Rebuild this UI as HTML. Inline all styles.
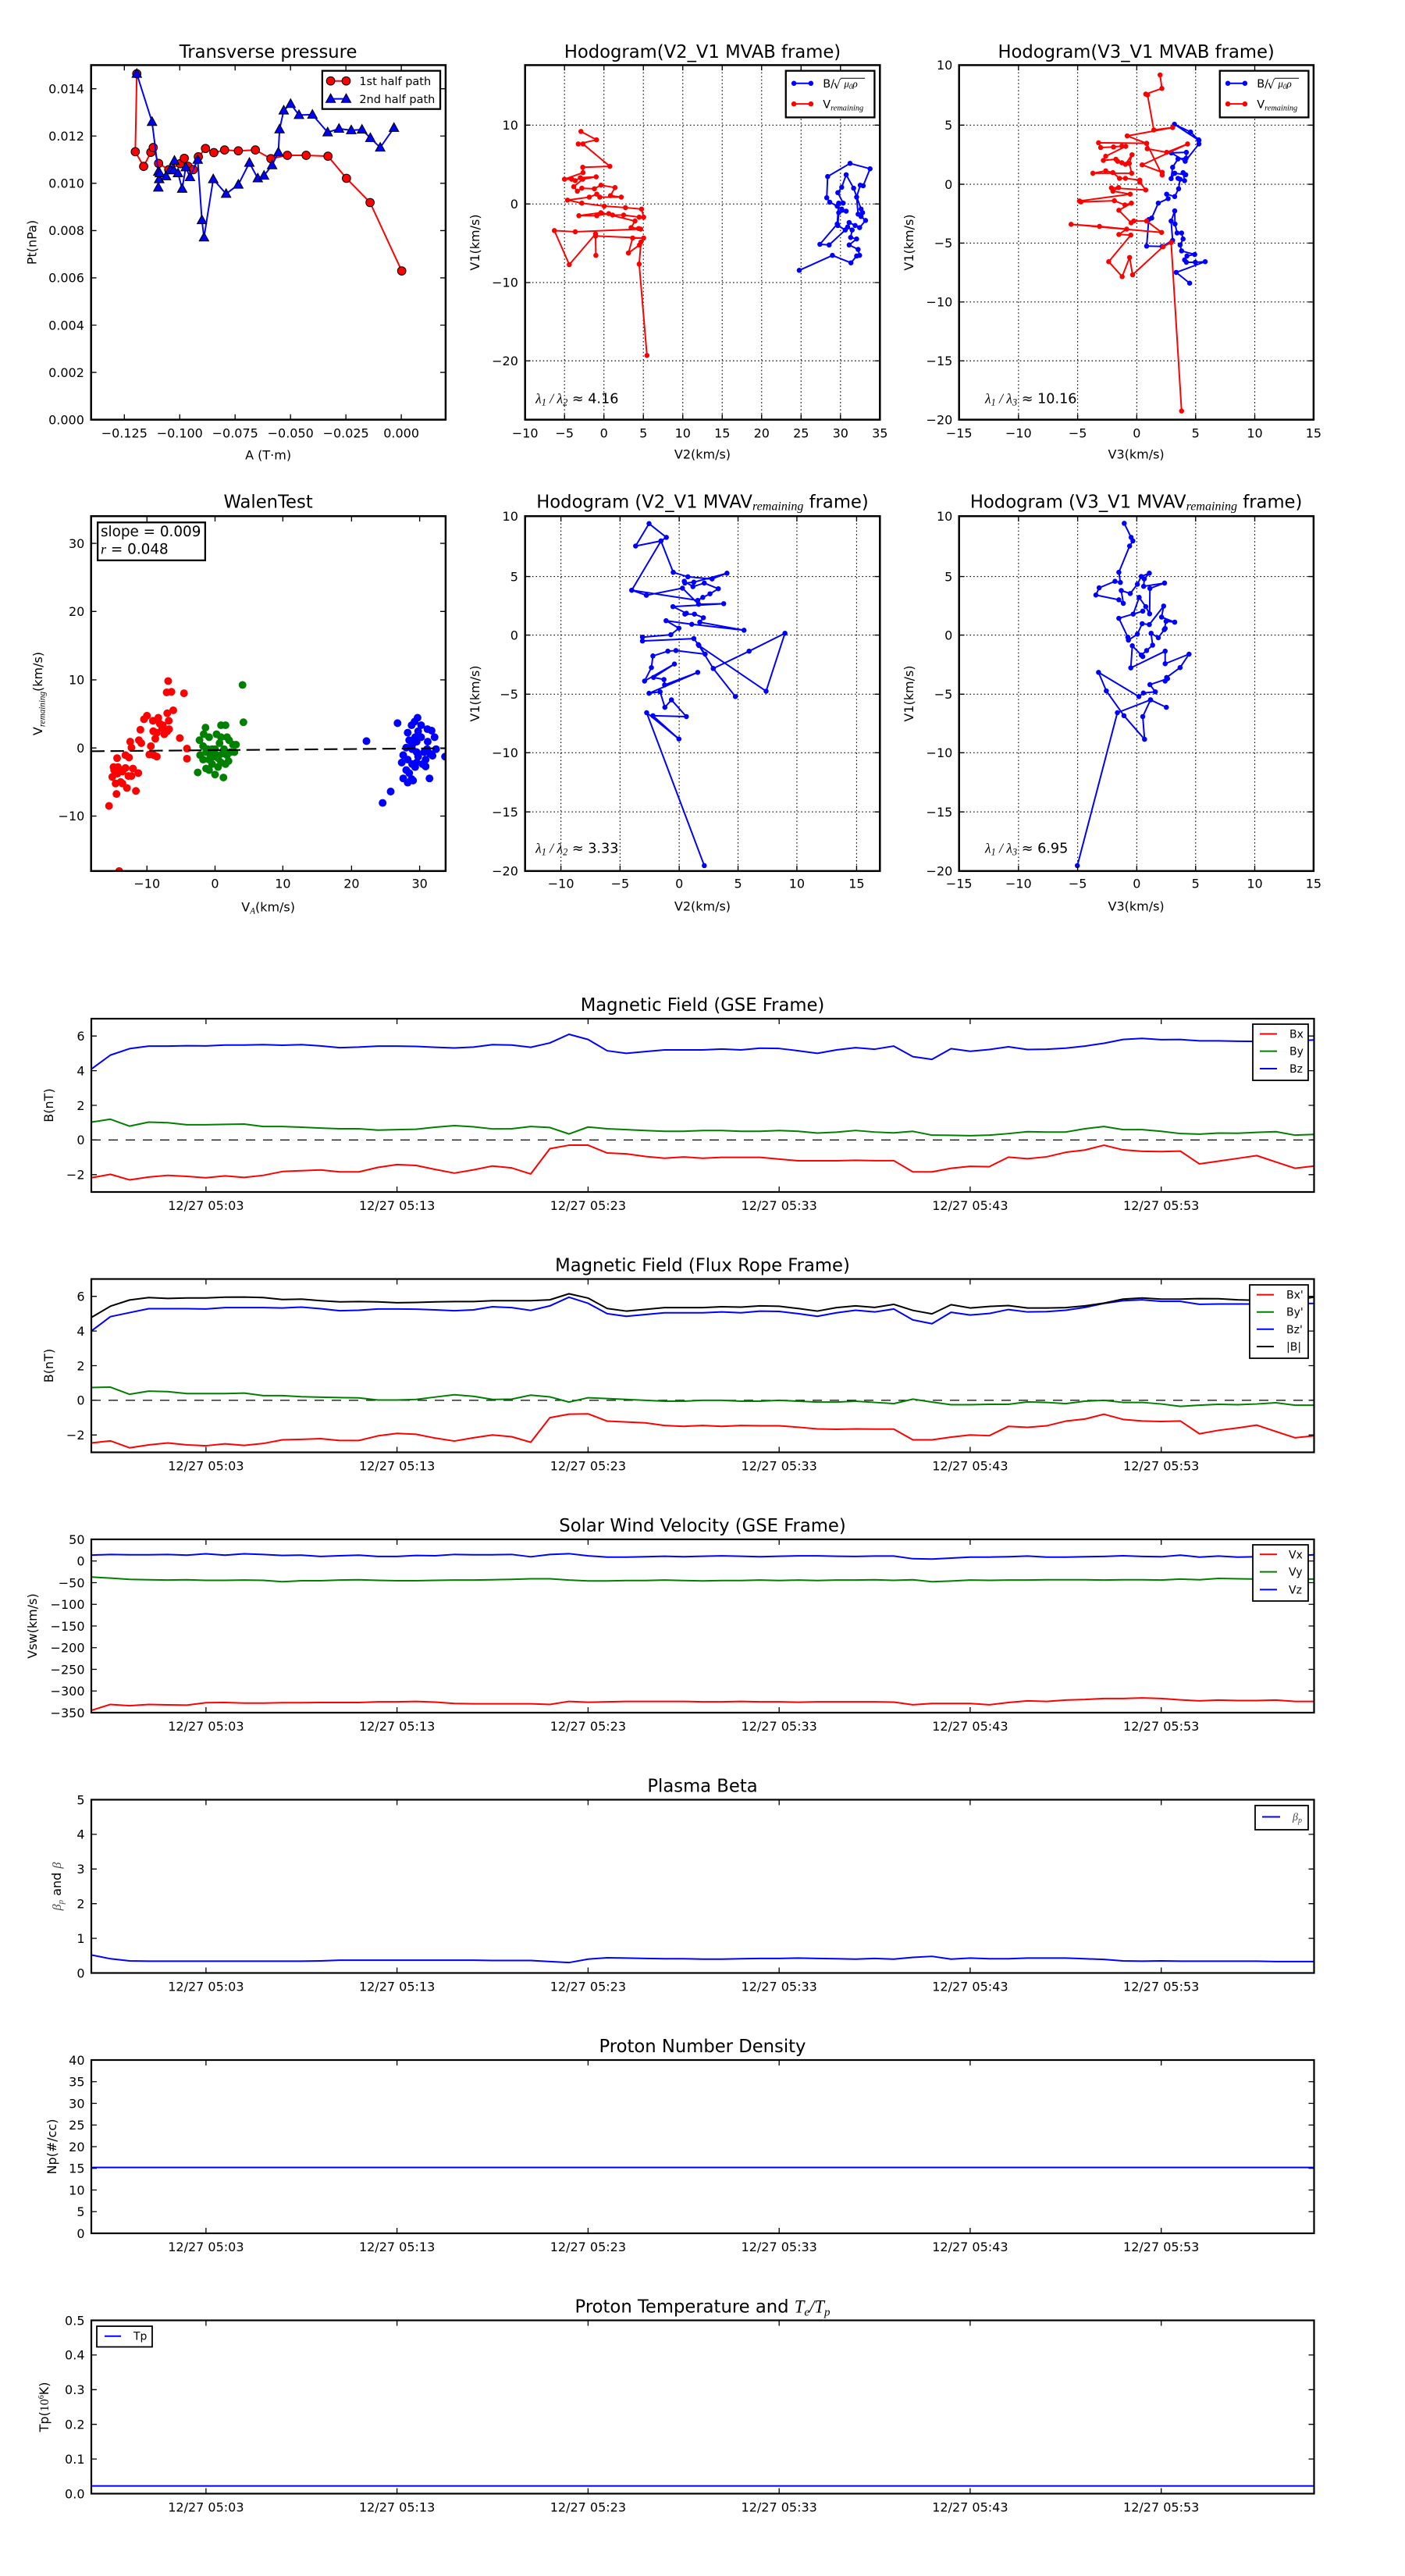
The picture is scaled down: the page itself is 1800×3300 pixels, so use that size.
<!DOCTYPE html>
<html><head><meta charset="utf-8">
<style>
html,body{margin:0;padding:0;background:#fff;}
svg{display:block;font-family:"DejaVu Sans","Liberation Sans",sans-serif;}
.ns{vector-effect:non-scaling-stroke;fill:none;stroke-width:2;stroke-linejoin:round;}
.mi{font-family:"Liberation Serif","DejaVu Serif",serif;font-style:italic;}
</style></head><body>
<svg width="1800" height="3300" viewBox="0 0 1800 3300" xmlns="http://www.w3.org/2000/svg">
<rect width="1800" height="3300" fill="#fff"/>
<defs>
<marker id="mRC" markerUnits="userSpaceOnUse" markerWidth="40" markerHeight="40" viewBox="-20 -20 40 40" refX="0" refY="0"><circle r="14" fill="#f00" stroke="#000" stroke-width="2.6"/></marker>
<marker id="mBT" markerUnits="userSpaceOnUse" markerWidth="40" markerHeight="40" viewBox="-20 -20 40 40" refX="0" refY="0"><path d="M0,-17L16,12L-16,12Z" fill="#00f" stroke="#000" stroke-width="2.6"/></marker>
<marker id="mB" markerUnits="userSpaceOnUse" markerWidth="20" markerHeight="20" viewBox="-10 -10 20 20" refX="0" refY="0"><circle r="8.5" fill="#00f"/></marker>
<marker id="mR" markerUnits="userSpaceOnUse" markerWidth="20" markerHeight="20" viewBox="-10 -10 20 20" refX="0" refY="0"><circle r="8.5" fill="#f00"/></marker>
<marker id="wR" markerUnits="userSpaceOnUse" markerWidth="28" markerHeight="28" viewBox="-14 -14 28 28" refX="0" refY="0"><circle r="13" fill="#f00"/></marker>
<marker id="wG" markerUnits="userSpaceOnUse" markerWidth="28" markerHeight="28" viewBox="-14 -14 28 28" refX="0" refY="0"><circle r="13" fill="#008000"/></marker>
<marker id="wB" markerUnits="userSpaceOnUse" markerWidth="28" markerHeight="28" viewBox="-14 -14 28 28" refX="0" refY="0"><circle r="13" fill="#00f"/></marker>
</defs>

<!-- ============ PANEL 1: Transverse pressure ============ -->
<g transform="translate(0,0) scale(0.38265)" font-size="41.8">
<clipPath id="c1"><rect x="305" y="218" width="1187" height="1187"/></clipPath>
<g clip-path="url(#c1)">
<polyline points="458,247 453,508 481,557 505,510 513,494 531,547 565,568 603,548 617,530 630,557 647,568 664,525 688,497 716,511 752,502 798,505 855,502 907,531 962,520 1025,520 1098,523 1160,597 1239,678 1345,907" fill="none" stroke="#f00" stroke-width="5.2" marker-start="url(#mRC)" marker-mid="url(#mRC)" marker-end="url(#mRC)"/>
<polyline points="458,247 509,408 530,575 530,628 533,600 535,580 556,590 570,568 584,538 582,570 596,580 610,632 622,560 636,593 662,535 676,737 683,795 714,600 757,649 798,618 835,545 863,597 884,588 911,553 932,510 936,433 950,370 973,348 1001,385 1046,384 1097,443 1135,431 1176,436 1212,434 1240,462 1273,494 1319,428" fill="none" stroke="#00f" stroke-width="5.2" marker-start="url(#mBT)" marker-mid="url(#mBT)" marker-end="url(#mBT)"/>
</g>
<path d="M416.3,1405v-18M601.8,1405v-18M787.2,1405v-18M972.7,1405v-18M1158.1,1405v-18M1343.6,1405v-18M416.3,218v18M601.8,218v18M787.2,218v18M972.7,218v18M1158.1,218v18M1343.6,218v18M305,1246.7h18M305,1088.5h18M305,930.2h18M305,772h18M305,613.7h18M305,455.4h18M305,297.1h18M1492,1246.7h-18M1492,1088.5h-18M1492,930.2h-18M1492,772h-18M1492,613.7h-18M1492,455.4h-18M1492,297.1h-18" stroke="#000" stroke-width="3.5"/>
<rect x="305" y="218" width="1187" height="1187" fill="none" stroke="#000" stroke-width="6.5"/>
<g text-anchor="end">
<text x="282" y="1420">0.000</text><text x="282" y="1261.7">0.002</text><text x="282" y="1103.5">0.004</text><text x="282" y="945.2">0.006</text><text x="282" y="787">0.008</text><text x="282" y="628.7">0.010</text><text x="282" y="470.4">0.012</text><text x="282" y="312.1">0.014</text>
</g>
<g text-anchor="middle">
<text x="416.3" y="1465">−0.125</text><text x="601.8" y="1465">−0.100</text><text x="787.2" y="1465">−0.075</text><text x="972.7" y="1465">−0.050</text><text x="1158.1" y="1465">−0.025</text><text x="1343.6" y="1465">0.000</text>
<text x="898" y="193" font-size="59.3">Transverse pressure</text>
<text x="898" y="1538">A (T·m)</text>
<text transform="translate(121,811.5) rotate(-90)">Pt(nPa)</text>
</g>
<rect x="1079" y="237" width="395" height="128" fill="#fff" stroke="#000" stroke-width="6"/>
<polyline points="1107,271 1159,271" stroke="#f00" stroke-width="5.2" marker-start="url(#mRC)" marker-end="url(#mRC)"/>
<polyline points="1107,331 1159,331" stroke="#00f" stroke-width="5.2" marker-start="url(#mBT)" marker-end="url(#mBT)"/>
<text x="1203" y="285" font-size="37.9">1st half path</text>
<text x="1203" y="345" font-size="37.9">2nd half path</text>
</g>

<!-- ============ PANEL 2: Hodogram V2_V1 MVAB ============ -->
<g transform="translate(600,0) scale(0.38265)" font-size="41.8">
<clipPath id="c2"><rect x="190" y="218" width="1188" height="1187"/></clipPath>
<path d="M322,218V1405M454,218V1405M586,218V1405M718,218V1405M850,218V1405M982,218V1405M1114,218V1405M1246,218V1405M190,419H1378M190,683H1378M190,946H1378M190,1208H1378" stroke="#000" stroke-width="3" stroke-dasharray="4,8"/>
<g clip-path="url(#c2)">
<polyline points="1108,905 1219,855 1281,880 1300,857 1310,855 1305,835 1275,820 1300,800 1280,795 1285,770 1270,760 1275,745 1295,755 1310,762 1330,738 1315,725 1305,717 1300,660 1312,620 1322,622 1345,565 1278,547 1203,591 1200,662 1210,677 1235,690 1250,700 1265,707 1240,712 1237,755 1262,770 1208,820 1177,818 1235,750 1240,680 1255,680 1237,645 1250,627 1265,585 1290,630 1315,700 1320,712" fill="none" stroke="#00f" stroke-width="5.2" stroke-linejoin="round" marker-start="url(#mB)" marker-mid="url(#mB)" marker-end="url(#mB)"/>
<polyline points="377,440 429,468 368,482 384,482 474,557 383,560 384,578 322,600 346,600 358,605 375,595 428,592 383,600 353,625 365,640 380,630 422,632 444,620 491,628 476,655 512,660 440,660 430,650 405,660 332,670 380,680 455,690 526,695 580,700 587,727 572,727 520,720 483,720 470,715 430,722 370,722 444,712 558,740 545,762 570,765 577,767 358,776 288,772 338,886 426,783 427,855 426,790 587,797 550,797 536,847 573,820 578,810 572,884 598,1190" fill="none" stroke="#f00" stroke-width="5.2" stroke-linejoin="round" marker-start="url(#mR)" marker-mid="url(#mR)" marker-end="url(#mR)"/>
</g>
<path d="M322,1405v-18M454,1405v-18M586,1405v-18M718,1405v-18M850,1405v-18M982,1405v-18M1114,1405v-18M1246,1405v-18M322,218v18M454,218v18M586,218v18M718,218v18M850,218v18M982,218v18M1114,218v18M1246,218v18M190,419h18M190,683h18M190,946h18M190,1208h18M1378,419h-18M1378,683h-18M1378,946h-18M1378,1208h-18" stroke="#000" stroke-width="3.5"/>
<rect x="190" y="218" width="1188" height="1187" fill="none" stroke="#000" stroke-width="6.5"/>
<g text-anchor="end"><text x="167" y="434">10</text><text x="167" y="698">0</text><text x="167" y="961">−10</text><text x="167" y="1223">−20</text></g>
<g text-anchor="middle">
<text x="190" y="1465">−10</text><text x="322" y="1465">−5</text><text x="454" y="1465">0</text><text x="586" y="1465">5</text><text x="718" y="1465">10</text><text x="850" y="1465">15</text><text x="982" y="1465">20</text><text x="1114" y="1465">25</text><text x="1246" y="1465">30</text><text x="1378" y="1465">35</text>
<text x="784" y="193" font-size="59.3">Hodogram(V2_V1 MVAB frame)</text>
<text x="784" y="1535">V2(km/s)</text>
<text transform="translate(37,811.5) rotate(-90)">V1(km/s)</text>
</g>
<text x="225" y="1350" font-size="46"><tspan class="mi">λ</tspan><tspan class="mi" font-size="32" dy="8">1</tspan><tspan class="mi" dy="-8"> / λ</tspan><tspan class="mi" font-size="32" dy="8">2</tspan><tspan dy="-8"> ≈ 4.16</tspan></text>
<rect x="1063" y="237" width="297" height="156" fill="#fff" stroke="#000" stroke-width="6"/>
<polyline points="1090,279 1147,279" stroke="#00f" stroke-width="5.2" marker-start="url(#mB)" marker-end="url(#mB)"/>
<polyline points="1090,348 1147,348" stroke="#f00" stroke-width="5.2" marker-start="url(#mR)" marker-end="url(#mR)"/>
<text x="1187" y="293" font-size="37.9">B/</text><text x="1222" y="297" font-size="40" font-family="DejaVu Serif,serif">√</text>
<text x="1258" y="292" font-size="34" class="mi">μ<tspan font-size="24" dy="6">0</tspan><tspan dy="-6">ρ</tspan></text>
<line x1="1246" y1="262" x2="1328" y2="262" stroke="#000" stroke-width="2.5"/>
<text x="1187" y="362" font-size="37.9">V<tspan class="mi" font-size="27" dy="8">remaining</tspan></text>
</g>

<!-- ============ PANEL 3: Hodogram V3_V1 MVAB ============ -->
<g transform="translate(1200,0) scale(0.38265)" font-size="41.8">
<clipPath id="c3"><rect x="75" y="218" width="1187" height="1187"/></clipPath>
<path d="M274,218V1405M472,218V1405M670,218V1405M867,218V1405M1065,218V1405M75,419H1262M75,617H1262M75,814H1262M75,1011H1262M75,1208H1262" stroke="#000" stroke-width="3" stroke-dasharray="4,8"/>
<g clip-path="url(#c3)">
<polyline points="847,948 802,912 899,876 866,878 836,878 830,870 838,857 864,852 820,840 815,820 825,800 820,780 805,780 798,750 797,706 785,740 790,805 755,825 703,824 710,735 720,730 742,680 775,665 770,650 797,658 810,632 815,600 808,597 830,605 825,578 834,585 797,580 785,598 790,560 808,532 835,530 836,510 786,512 832,540 878,482 877,468 850,442 796,416 878,470" fill="none" stroke="#00f" stroke-width="5.2" stroke-linejoin="round" marker-start="url(#mB)" marker-mid="url(#mB)" marker-end="url(#mB)"/>
<polyline points="748,251 754,296 700,315 706,318 727,435 790,427 638,455 703,480 705,498 770,510 840,482 688,552 755,577 755,586 703,480 542,478 549,494 592,492 620,489 633,490 566,523 558,537 600,533 606,540 620,545 632,550 654,518 645,547 653,580 523,580 566,572 590,578 612,597 632,597 680,603 680,610 700,636 585,629 609,628 590,640 648,650 478,673 483,676 595,672 630,686 652,680 610,704 651,746 660,740 703,740 753,778 450,751 545,758 636,767 610,785 650,787 576,876 621,926 646,862 656,920 758,826 785,812 820,1376" fill="none" stroke="#f00" stroke-width="5.2" stroke-linejoin="round" marker-start="url(#mR)" marker-mid="url(#mR)" marker-end="url(#mR)"/>
</g>
<path d="M274,1405v-18M472,1405v-18M670,1405v-18M867,1405v-18M1065,1405v-18M274,218v18M472,218v18M670,218v18M867,218v18M1065,218v18M75,419h18M75,617h18M75,814h18M75,1011h18M75,1208h18M1262,419h-18M1262,617h-18M1262,814h-18M1262,1011h-18M1262,1208h-18" stroke="#000" stroke-width="3.5"/>
<rect x="75" y="218" width="1187" height="1187" fill="none" stroke="#000" stroke-width="6.5"/>
<g text-anchor="end"><text x="53" y="233">10</text><text x="53" y="434">5</text><text x="53" y="632">0</text><text x="53" y="829">−5</text><text x="53" y="1026">−10</text><text x="53" y="1223">−15</text><text x="53" y="1420">−20</text></g>
<g text-anchor="middle">
<text x="75" y="1465">−15</text><text x="274" y="1465">−10</text><text x="472" y="1465">−5</text><text x="670" y="1465">0</text><text x="867" y="1465">5</text><text x="1065" y="1465">10</text><text x="1262" y="1465">15</text>
<text x="668" y="193" font-size="59.3">Hodogram(V3_V1 MVAB frame)</text>
<text x="668" y="1535">V3(km/s)</text>
<text transform="translate(-79,811.5) rotate(-90)">V1(km/s)</text>
</g>
<text x="162" y="1350" font-size="46"><tspan class="mi">λ</tspan><tspan class="mi" font-size="32" dy="8">1</tspan><tspan class="mi" dy="-8"> / λ</tspan><tspan class="mi" font-size="32" dy="8">3</tspan><tspan dy="-8"> ≈ 10.16</tspan></text>
<rect x="948" y="237" width="297" height="156" fill="#fff" stroke="#000" stroke-width="6"/>
<polyline points="975,279 1032,279" stroke="#00f" stroke-width="5.2" marker-start="url(#mB)" marker-end="url(#mB)"/>
<polyline points="975,348 1032,348" stroke="#f00" stroke-width="5.2" marker-start="url(#mR)" marker-end="url(#mR)"/>
<text x="1072" y="293" font-size="37.9">B/</text><text x="1107" y="297" font-size="40" font-family="DejaVu Serif,serif">√</text>
<text x="1143" y="292" font-size="34" class="mi">μ<tspan font-size="24" dy="6">0</tspan><tspan dy="-6">ρ</tspan></text>
<line x1="1131" y1="262" x2="1213" y2="262" stroke="#000" stroke-width="2.5"/>
<text x="1072" y="362" font-size="37.9">V<tspan class="mi" font-size="27" dy="8">remaining</tspan></text>
</g>

<!-- ============ PANEL 4: WalenTest ============ -->
<g transform="translate(0,600) scale(0.38265)" font-size="41.8">
<clipPath id="c4"><rect x="305" y="160" width="1187" height="1188"/></clipPath>
<g clip-path="url(#c4)">
<polyline points="365,1130 399,1348 390,1090 380,1000 382,1010 392,970 393,1022 387,1055 404,1050 410,1015 420,1003 430,1030 425,1070 420,960 432,968 445,1005 440,1030 455,1080 463,1020 436,915 440,935 465,910 470,875 473,920 482,840 492,828 500,958 505,930 515,960 525,965 513,880 512,845 520,905 530,835 535,855 543,870 550,890 560,880 565,845 566,873 558,750 563,712 574,748 580,810 560,820 602,903 616,753 626,938 626,972 545,860 525,885 395,1000 410,1055 376,1033" fill="none" stroke="none" marker-start="url(#wR)" marker-mid="url(#wR)" marker-end="url(#wR)"/>
<polyline points="688,868 682,890 668,910 680,930 690,950 700,900 710,940 725,890 725,960 735,920 740,900 745,955 750,940 760,900 767,910 755,860 740,860 780,925 790,925 785,950 765,980 755,990 740,985 720,1025 700,1010 690,1005 662,1018 748,1035 730,970 700,975 710,990 680,975 670,960 720,940 730,1000 812,725 815,850 760,960 772,950 695,940 705,960 715,965" fill="none" stroke="none" marker-start="url(#wG)" marker-mid="url(#wG)" marker-end="url(#wG)"/>
<polyline points="1227,913 1331,853 1378,860 1398,835 1388,848 1365,885 1370,910 1380,925 1390,900 1400,880 1410,860 1431,873 1445,878 1455,900 1432,915 1395,950 1380,940 1360,935 1350,960 1420,950 1430,940 1440,955 1460,940 1448,962 1425,975 1415,990 1395,985 1380,990 1365,975 1345,985 1360,1010 1370,1020 1378,1040 1350,1038 1365,1052 1383,1045 1425,998 1438,1038 1490,965 1308,1082 1281,1120 1395,915 1410,900 1400,965 1390,1000" fill="none" stroke="none" marker-start="url(#wB)" marker-mid="url(#wB)" marker-end="url(#wB)"/>
<line x1="305" y1="947" x2="1492" y2="937" stroke="#000" stroke-width="5.5" stroke-dasharray="45,20"/>
</g>
<path d="M492,1348v-18M720,1348v-18M947,1348v-18M1177,1348v-18M1405,1348v-18M492,160v18M720,160v18M947,160v18M1177,160v18M1405,160v18M305,251h18M305,479h18M305,708h18M305,936h18M305,1164h18M1492,251h-18M1492,479h-18M1492,708h-18M1492,936h-18M1492,1164h-18" stroke="#000" stroke-width="3.5"/>
<rect x="305" y="160" width="1187" height="1188" fill="none" stroke="#000" stroke-width="6.5"/>
<g text-anchor="end"><text x="283" y="266">30</text><text x="283" y="494">20</text><text x="283" y="723">10</text><text x="283" y="951">0</text><text x="283" y="1179">−10</text></g>
<g text-anchor="middle">
<text x="492" y="1405">−10</text><text x="720" y="1405">0</text><text x="947" y="1405">10</text><text x="1177" y="1405">20</text><text x="1405" y="1405">30</text>
<text x="898" y="132" font-size="59.3">WalenTest</text>
<text x="898" y="1483">V<tspan class="mi" font-size="29" dy="8">A</tspan><tspan dy="-8">(km/s)</tspan></text>
<text transform="translate(141,754) rotate(-90)">V<tspan class="mi" font-size="29" dy="9">remaining</tspan><tspan dy="-9">(km/s)</tspan></text>
</g>
<rect x="327" y="181" width="360" height="127" fill="#fff" stroke="#000" stroke-width="6"/>
<text x="337" y="228" font-size="48">slope = 0.009</text>
<text x="337" y="286" font-size="48"><tspan class="mi">r</tspan> = 0.048</text>
</g>

<!-- ============ PANEL 5: Hodogram V2_V1 MVAV ============ -->
<g transform="translate(600,600) scale(0.38265)" font-size="41.8">
<clipPath id="c5"><rect x="190" y="160" width="1188" height="1188"/></clipPath>
<path d="M310,160V1348M508,160V1348M706,160V1348M903,160V1348M1100,160V1348M1300,160V1348M190,362H1378M190,558H1378M190,756H1378M190,952H1378M190,1150H1378" stroke="#000" stroke-width="3" stroke-dasharray="4,8"/>
<g clip-path="url(#c5)">
<polyline points="790,1330 597,818 705,906 618,828 730,831 680,775 658,800 642,748 605,753 768,683 657,725 655,707 620,700 690,655 590,712 613,667 618,628 668,612 695,610 793,622 770,590 820,670 894,764 820,670 940,612 1060,552 997,746 772,593 755,570 583,578 583,565 678,557 705,535 662,510 748,522 923,542 775,515 787,500 757,488 725,488 730,485 685,463 855,453 771,455 717,401 596,425 547,408 768,442 785,432 809,420 837,403 790,384 752,396 723,378 725,384 755,381 866,351 816,370 735,363 686,348 645,243 560,260 605,185 663,231 645,243 547,408" fill="none" stroke="#00f" stroke-width="5.2" stroke-linejoin="round" marker-start="url(#mB)" marker-mid="url(#mB)" marker-end="url(#mB)"/>
</g>
<path d="M310,1348v-18M508,1348v-18M706,1348v-18M903,1348v-18M1100,1348v-18M1300,1348v-18M310,160v18M508,160v18M706,160v18M903,160v18M1100,160v18M1300,160v18M190,362h18M190,558h18M190,756h18M190,952h18M190,1150h18M1378,362h-18M1378,558h-18M1378,756h-18M1378,952h-18M1378,1150h-18" stroke="#000" stroke-width="3.5"/>
<rect x="190" y="160" width="1188" height="1188" fill="none" stroke="#000" stroke-width="6.5"/>
<g text-anchor="end"><text x="167" y="175">10</text><text x="167" y="377">5</text><text x="167" y="573">0</text><text x="167" y="771">−5</text><text x="167" y="967">−10</text><text x="167" y="1165">−15</text><text x="167" y="1363">−20</text></g>
<g text-anchor="middle">
<text x="310" y="1405">−10</text><text x="508" y="1405">−5</text><text x="706" y="1405">0</text><text x="903" y="1405">5</text><text x="1100" y="1405">10</text><text x="1300" y="1405">15</text>
<text x="784" y="132" font-size="59.3">Hodogram (V2_V1 MVAV<tspan class="mi" font-size="42" dy="8">remaining</tspan><tspan dy="-8"> frame)</tspan></text>
<text x="784" y="1480">V2(km/s)</text>
<text transform="translate(37,754) rotate(-90)">V1(km/s)</text>
</g>
<text x="225" y="1287" font-size="46"><tspan class="mi">λ</tspan><tspan class="mi" font-size="32" dy="8">1</tspan><tspan class="mi" dy="-8"> / λ</tspan><tspan class="mi" font-size="32" dy="8">2</tspan><tspan dy="-8"> ≈ 3.33</tspan></text>
</g>

<!-- ============ PANEL 6: Hodogram V3_V1 MVAV ============ -->
<g transform="translate(1200,600) scale(0.38265)" font-size="41.8">
<clipPath id="c6"><rect x="75" y="160" width="1187" height="1188"/></clipPath>
<path d="M274,160V1348M472,160V1348M670,160V1348M867,160V1348M1065,160V1348M75,362H1262M75,558H1262M75,756H1262M75,952H1262M75,1150H1262" stroke="#000" stroke-width="3" stroke-dasharray="4,8"/>
<g clip-path="url(#c6)">
<polyline points="628,184 651,231 657,243 646,260 610,348 615,382 597,378 544,400 533,424 610,440 625,452 618,409 648,419 672,388 685,362 712,351 695,370 693,395 763,384 714,402 713,487 700,463 678,432 658,488 690,478 610,502 640,565 642,575 672,555 688,520 712,523 760,461 753,498 797,515 768,512 762,540 765,536 742,567 718,552 723,592 703,610 685,625 690,630 655,594 650,668 765,612 765,654 845,622 815,667 770,700 765,712 773,704 714,724 732,748 692,752 677,764 542,683 568,745 627,828 696,907 690,831 716,775 769,800 716,775 605,818 471,1330" fill="none" stroke="#00f" stroke-width="5.2" stroke-linejoin="round" marker-start="url(#mB)" marker-mid="url(#mB)" marker-end="url(#mB)"/>
</g>
<path d="M274,1348v-18M472,1348v-18M670,1348v-18M867,1348v-18M1065,1348v-18M274,160v18M472,160v18M670,160v18M867,160v18M1065,160v18M75,362h18M75,558h18M75,756h18M75,952h18M75,1150h18M1262,362h-18M1262,558h-18M1262,756h-18M1262,952h-18M1262,1150h-18" stroke="#000" stroke-width="3.5"/>
<rect x="75" y="160" width="1187" height="1188" fill="none" stroke="#000" stroke-width="6.5"/>
<g text-anchor="end"><text x="53" y="175">10</text><text x="53" y="377">5</text><text x="53" y="573">0</text><text x="53" y="771">−5</text><text x="53" y="967">−10</text><text x="53" y="1165">−15</text><text x="53" y="1363">−20</text></g>
<g text-anchor="middle">
<text x="75" y="1405">−15</text><text x="274" y="1405">−10</text><text x="472" y="1405">−5</text><text x="670" y="1405">0</text><text x="867" y="1405">5</text><text x="1065" y="1405">10</text><text x="1262" y="1405">15</text>
<text x="668" y="132" font-size="59.3">Hodogram (V3_V1 MVAV<tspan class="mi" font-size="42" dy="8">remaining</tspan><tspan dy="-8"> frame)</tspan></text>
<text x="668" y="1480">V3(km/s)</text>
<text transform="translate(-79,754) rotate(-90)">V1(km/s)</text>
</g>
<text x="162" y="1287" font-size="46"><tspan class="mi">λ</tspan><tspan class="mi" font-size="32" dy="8">1</tspan><tspan class="mi" dy="-8"> / λ</tspan><tspan class="mi" font-size="32" dy="8">3</tspan><tspan dy="-8"> ≈ 6.95</tspan></text>
</g>

<!-- ============ TIME SERIES ============ -->
<g font-size="16">
<!-- common x tick labels / titles -->
<g text-anchor="middle" font-size="22.7">
<text x="900" y="1295">Magnetic Field (GSE Frame)</text>
<text x="900" y="1628.5">Magnetic Field (Flux Rope Frame)</text>
<text x="900" y="1962">Solar Wind Velocity (GSE Frame)</text>
<text x="900" y="2295.5">Plasma Beta</text>
<text x="900" y="2629">Proton Number Density</text>
<text x="900" y="2962.5">Proton Temperature and <tspan class="mi">T</tspan><tspan class="mi" font-size="15" dy="4">e</tspan><tspan class="mi" dy="-4">/T</tspan><tspan class="mi" font-size="15" dy="4">p</tspan></text>
</g>

<!-- Panel B GSE -->
<line x1="117" y1="1460.4" x2="1683.5" y2="1460.4" stroke="#000" stroke-width="1.2" stroke-dasharray="12,10"/>
<g transform="translate(117,1460.4) scale(24.477,-22.2)">
<polyline class="ns" stroke="#f00" points="0,-2.18 1,-1.98 2,-2.3 3,-2.14 4,-2.04 5,-2.1 6,-2.18 7,-2.07 8,-2.16 9,-2.04 10,-1.82 11,-1.77 12,-1.73 13,-1.84 14,-1.84 15,-1.58 16,-1.42 17,-1.47 18,-1.7 19,-1.91 20,-1.72 21,-1.5 22,-1.61 23,-1.96 24,-0.5 25,-0.3 26,-0.3 27,-0.75 28,-0.8 29,-0.95 30,-1.05 31,-0.98 32,-1.05 33,-1.0 34,-1.0 35,-1.0 36,-1.1 37,-1.2 38,-1.2 39,-1.2 40,-1.17 41,-1.19 42,-1.19 43,-1.84 44,-1.84 45,-1.63 46,-1.52 47,-1.54 48,-0.99 49,-1.08 50,-0.97 51,-0.71 52,-0.58 53,-0.3 54,-0.57 55,-0.65 56,-0.67 57,-0.64 58,-1.38 59,-1.22 60,-1.06 61,-0.9 62,-1.27 63,-1.63 64,-1.5"/>
<polyline class="ns" stroke="#008000" points="0,1.03 1,1.2 2,0.8 3,1.03 4,1.0 5,0.88 6,0.88 7,0.9 8,0.92 9,0.78 10,0.78 11,0.74 12,0.69 13,0.65 14,0.65 15,0.57 16,0.6 17,0.62 18,0.74 19,0.83 20,0.76 21,0.64 22,0.65 23,0.78 24,0.72 25,0.35 26,0.75 27,0.65 28,0.6 29,0.55 30,0.5 31,0.5 32,0.55 33,0.55 34,0.5 35,0.5 36,0.55 37,0.5 38,0.4 39,0.45 40,0.55 41,0.46 42,0.41 43,0.5 44,0.28 45,0.27 46,0.25 47,0.28 48,0.37 49,0.48 50,0.46 51,0.46 52,0.65 53,0.78 54,0.6 55,0.6 56,0.5 57,0.37 58,0.34 59,0.4 60,0.39 61,0.44 62,0.48 63,0.28 64,0.32"/>
<polyline class="ns" stroke="#00f" points="0,4.09 1,4.9 2,5.27 3,5.42 4,5.42 5,5.44 6,5.43 7,5.48 8,5.48 9,5.5 10,5.47 11,5.5 12,5.43 13,5.33 14,5.36 15,5.42 16,5.42 17,5.4 18,5.35 19,5.31 20,5.36 21,5.5 22,5.48 23,5.35 24,5.6 25,6.1 26,5.8 27,5.15 28,5.0 29,5.1 30,5.2 31,5.2 32,5.2 33,5.25 34,5.2 35,5.3 36,5.28 37,5.15 38,5.0 39,5.2 40,5.33 41,5.24 42,5.42 43,4.81 44,4.65 45,5.27 46,5.12 47,5.22 48,5.38 49,5.22 50,5.24 51,5.3 52,5.42 53,5.58 54,5.8 55,5.86 56,5.79 57,5.8 58,5.72 59,5.72 60,5.7 61,5.69 62,5.7 63,5.72 64,5.77"/>
</g>
<path d="M263.9,1527v-7M508.6,1527v-7M753.4,1527v-7M998.2,1527v-7M1242.9,1527v-7M1487.7,1527v-7M263.9,1305v7M508.6,1305v7M753.4,1305v7M998.2,1305v7M1242.9,1305v7M1487.7,1305v7M117,1327.2h7M117,1371.6h7M117,1416h7M117,1460.4h7M117,1504.8h7M1683.5,1327.2h-7M1683.5,1371.6h-7M1683.5,1416h-7M1683.5,1460.4h-7M1683.5,1504.8h-7" stroke="#000" stroke-width="1.3"/>
<rect x="117" y="1305" width="1566.5" height="222" fill="none" stroke="#000" stroke-width="2.2"/>
<g text-anchor="end"><text x="108.5" y="1333">6</text><text x="108.5" y="1377.4">4</text><text x="108.5" y="1421.8">2</text><text x="108.5" y="1466.2">0</text><text x="108.5" y="1510.6">−2</text></g>
<g text-anchor="middle"><text x="263.9" y="1550">12/27 05:03</text><text x="508.6" y="1550">12/27 05:13</text><text x="753.4" y="1550">12/27 05:23</text><text x="998.2" y="1550">12/27 05:33</text><text x="1242.9" y="1550">12/27 05:43</text><text x="1487.7" y="1550">12/27 05:53</text>
<text transform="translate(68,1416) rotate(-90)">B(nT)</text></g>
<rect x="1605" y="1312" width="71" height="72" fill="#fff" stroke="#000" stroke-width="1.8"/>
<line x1="1614" y1="1324.5" x2="1636" y2="1324.5" stroke="#f00" stroke-width="2"/>
<line x1="1614" y1="1346.6" x2="1636" y2="1346.6" stroke="#008000" stroke-width="2"/>
<line x1="1614" y1="1369" x2="1636" y2="1369" stroke="#00f" stroke-width="2"/>
<g font-size="14"><text x="1652" y="1329.5">Bx</text><text x="1652" y="1351.6">By</text><text x="1652" y="1374">Bz</text></g>

<!-- Panel B FR -->
<line x1="117" y1="1793.9" x2="1683.5" y2="1793.9" stroke="#000" stroke-width="1.2" stroke-dasharray="12,10"/>
<g transform="translate(117,1793.9) scale(24.477,-22.2)">
<polyline class="ns" stroke="#f00" points="0,-2.46 1,-2.34 2,-2.74 3,-2.57 4,-2.46 5,-2.57 6,-2.62 7,-2.51 8,-2.6 9,-2.49 10,-2.28 11,-2.25 12,-2.21 13,-2.32 14,-2.32 15,-2.05 16,-1.91 17,-1.96 18,-2.18 19,-2.35 20,-2.16 21,-2.0 22,-2.1 23,-2.42 24,-1.0 25,-0.8 26,-0.78 27,-1.2 28,-1.25 29,-1.3 30,-1.45 31,-1.5 32,-1.45 33,-1.5 34,-1.45 35,-1.47 36,-1.47 37,-1.55 38,-1.65 39,-1.67 40,-1.65 41,-1.66 42,-1.66 43,-2.28 44,-2.28 45,-2.12 46,-2.0 47,-2.04 48,-1.5 49,-1.56 50,-1.47 51,-1.2 52,-1.08 53,-0.8 54,-1.1 55,-1.19 56,-1.22 57,-1.19 58,-1.93 59,-1.73 60,-1.59 61,-1.43 62,-1.8 63,-2.16 64,-2.05"/>
<polyline class="ns" stroke="#008000" points="0,0.74 1,0.76 2,0.35 3,0.53 4,0.5 5,0.39 6,0.39 7,0.39 8,0.42 9,0.27 10,0.27 11,0.21 12,0.18 13,0.16 14,0.14 15,0.02 16,0.02 17,0.05 18,0.19 19,0.32 20,0.23 21,0.05 22,0.07 23,0.3 24,0.2 25,-0.1 26,0.15 27,0.1 28,0.05 29,0 30,-0.05 31,-0.05 32,0 33,0 34,-0.05 35,-0.05 36,0 37,-0.05 38,-0.1 39,-0.1 40,-0.05 41,-0.12 42,-0.19 43,0.07 44,-0.1 45,-0.25 46,-0.25 47,-0.23 48,-0.23 49,-0.09 50,-0.12 51,-0.19 52,-0.05 53,0 54,-0.12 55,-0.12 56,-0.21 57,-0.35 58,-0.28 59,-0.23 60,-0.25 61,-0.21 62,-0.14 63,-0.28 64,-0.28"/>
<polyline class="ns" stroke="#00f" points="0,4.0 1,4.83 2,5.06 3,5.29 4,5.29 5,5.29 6,5.27 7,5.35 8,5.35 9,5.35 10,5.33 11,5.38 12,5.29 13,5.17 14,5.2 15,5.27 16,5.27 17,5.26 18,5.22 19,5.17 20,5.22 21,5.4 22,5.35 23,5.19 24,5.45 25,5.95 26,5.6 27,5.0 28,4.85 29,4.95 30,5.05 31,5.05 32,5.05 33,5.1 34,5.05 35,5.15 36,5.13 37,5.0 38,4.85 39,5.05 40,5.2 41,5.1 42,5.27 43,4.64 44,4.42 45,5.08 46,4.92 47,5.01 48,5.24 49,5.1 50,5.12 51,5.2 52,5.36 53,5.59 54,5.75 55,5.8 56,5.71 57,5.71 58,5.54 59,5.56 60,5.56 61,5.56 62,5.57 63,5.58 64,5.59"/>
<polyline class="ns" stroke="#000" points="0,4.78 1,5.43 2,5.79 3,5.93 4,5.88 5,5.91 6,5.91 7,5.95 8,5.96 9,5.93 10,5.82 11,5.84 12,5.75 13,5.68 14,5.7 15,5.68 16,5.63 17,5.65 18,5.68 19,5.7 20,5.7 21,5.75 22,5.75 23,5.75 24,5.8 25,6.15 26,5.9 27,5.3 28,5.15 29,5.25 30,5.35 31,5.35 32,5.35 33,5.4 34,5.38 35,5.45 36,5.43 37,5.3 38,5.15 39,5.35 40,5.45 41,5.36 42,5.54 43,5.19 44,4.99 45,5.52 46,5.33 47,5.42 48,5.47 49,5.33 50,5.33 51,5.35 52,5.45 53,5.61 54,5.84 55,5.91 56,5.84 57,5.84 58,5.87 59,5.86 60,5.8 61,5.77 62,5.78 63,5.8 64,5.95"/>
</g>
<path d="M263.9,1860.5v-7M508.6,1860.5v-7M753.4,1860.5v-7M998.2,1860.5v-7M1242.9,1860.5v-7M1487.7,1860.5v-7M263.9,1638.5v7M508.6,1638.5v7M753.4,1638.5v7M998.2,1638.5v7M1242.9,1638.5v7M1487.7,1638.5v7M117,1660.7h7M117,1705.1h7M117,1749.5h7M117,1793.9h7M117,1838.3h7M1683.5,1660.7h-7M1683.5,1705.1h-7M1683.5,1749.5h-7M1683.5,1793.9h-7M1683.5,1838.3h-7" stroke="#000" stroke-width="1.3"/>
<rect x="117" y="1638.5" width="1566.5" height="222" fill="none" stroke="#000" stroke-width="2.2"/>
<g text-anchor="end"><text x="108.5" y="1666.5">6</text><text x="108.5" y="1710.9">4</text><text x="108.5" y="1755.3">2</text><text x="108.5" y="1799.7">0</text><text x="108.5" y="1844.1">−2</text></g>
<g text-anchor="middle"><text x="263.9" y="1883.5">12/27 05:03</text><text x="508.6" y="1883.5">12/27 05:13</text><text x="753.4" y="1883.5">12/27 05:23</text><text x="998.2" y="1883.5">12/27 05:33</text><text x="1242.9" y="1883.5">12/27 05:43</text><text x="1487.7" y="1883.5">12/27 05:53</text>
<text transform="translate(68,1749.5) rotate(-90)">B(nT)</text></g>
<rect x="1601" y="1646" width="75" height="94" fill="#fff" stroke="#000" stroke-width="1.8"/>
<line x1="1610" y1="1658.6" x2="1632" y2="1658.6" stroke="#f00" stroke-width="2"/>
<line x1="1610" y1="1680.7" x2="1632" y2="1680.7" stroke="#008000" stroke-width="2"/>
<line x1="1610" y1="1702.8" x2="1632" y2="1702.8" stroke="#00f" stroke-width="2"/>
<line x1="1610" y1="1725" x2="1632" y2="1725" stroke="#000" stroke-width="2"/>
<g font-size="14"><text x="1648" y="1663.6">Bx'</text><text x="1648" y="1685.7">By'</text><text x="1648" y="1707.8">Bz'</text><text x="1648" y="1730">|B|</text></g>

<!-- Panel Vsw -->
<g transform="translate(117,1999.75) scale(24.477,-0.555)">
<polyline class="ns" stroke="#f00" points="0,-344.7 1,-331 2,-334 3,-331 4,-332 5,-332.6 6,-327 7,-326.5 8,-328 9,-328 10,-327 11,-327 12,-326.5 13,-326.5 14,-326.5 15,-325 16,-325 17,-324 18,-325.7 19,-328.8 20,-329.5 21,-329.5 22,-329.5 23,-329.5 24,-331 25,-324 26,-326 27,-325 28,-324 29,-324 30,-324 31,-324 32,-325 33,-325 34,-324 35,-325 36,-325 37,-326 38,-325 39,-325 40,-325 41,-325 42,-325.7 43,-331.8 44,-328.8 45,-328.8 46,-328.8 47,-331.8 48,-326.5 49,-322.7 50,-324.2 51,-321 52,-319.7 53,-317.4 54,-317.4 55,-316 56,-317.4 57,-320.5 58,-322.7 59,-321 60,-322 61,-322 62,-321 63,-324 64,-324"/>
<polyline class="ns" stroke="#008000" points="0,-37 1,-39.4 2,-42.4 3,-43.2 4,-44 5,-43.2 6,-44.7 7,-44.7 8,-44 9,-44.7 10,-47.7 11,-45.5 12,-45.5 13,-44 14,-43.2 15,-44.7 16,-45.5 17,-45.5 18,-44.7 19,-44 20,-44 21,-43.2 22,-42.4 23,-40.9 24,-41 25,-44 26,-46 27,-46 28,-45 29,-45 30,-44 31,-45 32,-46 33,-45 34,-45 35,-44 36,-45 37,-44 38,-45 39,-44 40,-44 41,-43.2 42,-44.7 43,-43.2 44,-47.7 45,-46.2 46,-44 47,-44.7 48,-44 49,-44 50,-43.2 51,-43.2 52,-43.2 53,-44 54,-43.2 55,-43.2 56,-44 57,-41.7 58,-43.2 59,-40 60,-40.9 61,-41.7 62,-41.7 63,-41.7 64,-41.7"/>
<polyline class="ns" stroke="#00f" points="0,13.6 1,15.2 2,14.4 3,14.4 4,15.2 5,13.6 6,16.7 7,13.6 8,16.7 9,15.2 10,12.9 11,13.6 12,10.6 13,12.1 14,13.6 15,10.6 16,10.6 17,12.9 18,12.1 19,15.2 20,14.4 21,14.4 22,15.2 23,9.8 24,15 25,17 26,12 27,9 28,9 29,10 30,11 31,10 32,11 33,12 34,11 35,10 36,11 37,12 38,12 39,11 40,10.6 41,11.4 42,11.4 43,5.3 44,4.5 45,6.8 46,9.1 47,9.1 48,9.8 49,11.4 50,9.1 51,9.1 52,9.8 53,10.6 54,12.1 55,10.6 56,9.8 57,13.6 58,9.1 59,11.4 60,9.1 61,9.8 62,11 63,12 64,14.4"/>
</g>
<path d="M263.9,2194v-7M508.6,2194v-7M753.4,2194v-7M998.2,2194v-7M1242.9,2194v-7M1487.7,2194v-7M263.9,1972v7M508.6,1972v7M753.4,1972v7M998.2,1972v7M1242.9,1972v7M1487.7,1972v7M117,1999.75h7M117,2027.5h7M117,2055.25h7M117,2083h7M117,2110.75h7M117,2138.5h7M117,2166.25h7M1683.5,1999.75h-7M1683.5,2027.5h-7M1683.5,2055.25h-7M1683.5,2083h-7M1683.5,2110.75h-7M1683.5,2138.5h-7M1683.5,2166.25h-7" stroke="#000" stroke-width="1.3"/>
<rect x="117" y="1972" width="1566.5" height="222" fill="none" stroke="#000" stroke-width="2.2"/>
<g text-anchor="end"><text x="108.5" y="1977.8">50</text><text x="108.5" y="2005.55">0</text><text x="108.5" y="2033.3">−50</text><text x="108.5" y="2061.05">−100</text><text x="108.5" y="2088.8">−150</text><text x="108.5" y="2116.55">−200</text><text x="108.5" y="2144.3">−250</text><text x="108.5" y="2172.05">−300</text><text x="108.5" y="2199.8">−350</text></g>
<g text-anchor="middle"><text x="263.9" y="2217">12/27 05:03</text><text x="508.6" y="2217">12/27 05:13</text><text x="753.4" y="2217">12/27 05:23</text><text x="998.2" y="2217">12/27 05:33</text><text x="1242.9" y="2217">12/27 05:43</text><text x="1487.7" y="2217">12/27 05:53</text>
<text transform="translate(47,2083) rotate(-90)">Vsw(km/s)</text></g>
<rect x="1605" y="1979" width="71" height="72" fill="#fff" stroke="#000" stroke-width="1.8"/>
<line x1="1614" y1="1991.3" x2="1636" y2="1991.3" stroke="#f00" stroke-width="2"/>
<line x1="1614" y1="2013.6" x2="1636" y2="2013.6" stroke="#008000" stroke-width="2"/>
<line x1="1614" y1="2036.4" x2="1636" y2="2036.4" stroke="#00f" stroke-width="2"/>
<g font-size="14"><text x="1651" y="1996.3">Vx</text><text x="1651" y="2018.6">Vy</text><text x="1651" y="2041.4">Vz</text></g>

<!-- Panel Beta -->
<g transform="translate(117,2527.5) scale(24.477,-44.4)">
<polyline class="ns" stroke="#00f" points="0,0.52 1,0.41 2,0.35 3,0.34 4,0.34 5,0.34 6,0.34 7,0.34 8,0.34 9,0.34 10,0.34 11,0.34 12,0.35 13,0.37 14,0.37 15,0.37 16,0.37 17,0.37 18,0.37 19,0.37 20,0.37 21,0.36 22,0.36 23,0.36 24,0.33 25,0.3 26,0.4 27,0.44 28,0.43 29,0.42 30,0.41 31,0.41 32,0.4 33,0.4 34,0.41 35,0.42 36,0.42 37,0.43 38,0.42 39,0.41 40,0.4 41,0.42 42,0.4 43,0.45 44,0.48 45,0.4 46,0.43 47,0.41 48,0.41 49,0.43 50,0.43 51,0.43 52,0.41 53,0.39 54,0.35 55,0.34 56,0.35 57,0.34 58,0.34 59,0.34 60,0.34 61,0.34 62,0.33 63,0.33 64,0.33"/>
</g>
<path d="M263.9,2527.5v-7M508.6,2527.5v-7M753.4,2527.5v-7M998.2,2527.5v-7M1242.9,2527.5v-7M1487.7,2527.5v-7M263.9,2305.5v7M508.6,2305.5v7M753.4,2305.5v7M998.2,2305.5v7M1242.9,2305.5v7M1487.7,2305.5v7M117,2349.9h7M117,2394.3h7M117,2438.7h7M117,2483.1h7M1683.5,2349.9h-7M1683.5,2394.3h-7M1683.5,2438.7h-7M1683.5,2483.1h-7" stroke="#000" stroke-width="1.3"/>
<rect x="117" y="2305.5" width="1566.5" height="222" fill="none" stroke="#000" stroke-width="2.2"/>
<g text-anchor="end"><text x="108.5" y="2311.3">5</text><text x="108.5" y="2355.7">4</text><text x="108.5" y="2400.1">3</text><text x="108.5" y="2444.5">2</text><text x="108.5" y="2488.9">1</text><text x="108.5" y="2533.3">0</text></g>
<g text-anchor="middle"><text x="263.9" y="2550.5">12/27 05:03</text><text x="508.6" y="2550.5">12/27 05:13</text><text x="753.4" y="2550.5">12/27 05:23</text><text x="998.2" y="2550.5">12/27 05:33</text><text x="1242.9" y="2550.5">12/27 05:43</text><text x="1487.7" y="2550.5">12/27 05:53</text>
<text transform="translate(78,2416.5) rotate(-90)"><tspan class="mi" fill="#444">β</tspan><tspan class="mi" font-size="11" dy="3" fill="#444">p</tspan><tspan dy="-3"> and </tspan><tspan class="mi" fill="#444">β</tspan></text></g>
<rect x="1608" y="2313" width="68" height="31" fill="#fff" stroke="#000" stroke-width="1.8"/>
<line x1="1617" y1="2327.5" x2="1640" y2="2327.5" stroke="#00f" stroke-width="2"/>
<text x="1656" y="2332" font-size="14" class="mi" fill="#444">β<tspan font-size="10" dy="3">p</tspan></text>

<!-- Panel Np -->
<line x1="117" y1="2776.6" x2="1683.5" y2="2776.6" stroke="#00f" stroke-width="2"/>
<path d="M263.9,2861v-7M508.6,2861v-7M753.4,2861v-7M998.2,2861v-7M1242.9,2861v-7M1487.7,2861v-7M263.9,2639v7M508.6,2639v7M753.4,2639v7M998.2,2639v7M1242.9,2639v7M1487.7,2639v7M117,2666.75h7M117,2694.5h7M117,2722.25h7M117,2750h7M117,2777.75h7M117,2805.5h7M117,2833.25h7M1683.5,2666.75h-7M1683.5,2694.5h-7M1683.5,2722.25h-7M1683.5,2750h-7M1683.5,2777.75h-7M1683.5,2805.5h-7M1683.5,2833.25h-7" stroke="#000" stroke-width="1.3"/>
<rect x="117" y="2639" width="1566.5" height="222" fill="none" stroke="#000" stroke-width="2.2"/>
<g text-anchor="end"><text x="108.5" y="2644.8">40</text><text x="108.5" y="2672.55">35</text><text x="108.5" y="2700.3">30</text><text x="108.5" y="2728.05">25</text><text x="108.5" y="2755.8">20</text><text x="108.5" y="2783.55">15</text><text x="108.5" y="2811.3">10</text><text x="108.5" y="2839.05">5</text><text x="108.5" y="2866.8">0</text></g>
<g text-anchor="middle"><text x="263.9" y="2884">12/27 05:03</text><text x="508.6" y="2884">12/27 05:13</text><text x="753.4" y="2884">12/27 05:23</text><text x="998.2" y="2884">12/27 05:33</text><text x="1242.9" y="2884">12/27 05:43</text><text x="1487.7" y="2884">12/27 05:53</text>
<text transform="translate(72,2750) rotate(-90)">Np(#/cc)</text></g>

<!-- Panel Tp -->
<line x1="117" y1="3184.6" x2="1683.5" y2="3184.6" stroke="#00f" stroke-width="2"/>
<path d="M263.9,3194.5v-7M508.6,3194.5v-7M753.4,3194.5v-7M998.2,3194.5v-7M1242.9,3194.5v-7M1487.7,3194.5v-7M263.9,2972.5v7M508.6,2972.5v7M753.4,2972.5v7M998.2,2972.5v7M1242.9,2972.5v7M1487.7,2972.5v7M117,3016.9h7M117,3061.3h7M117,3105.7h7M117,3150.1h7M1683.5,3016.9h-7M1683.5,3061.3h-7M1683.5,3105.7h-7M1683.5,3150.1h-7" stroke="#000" stroke-width="1.3"/>
<rect x="117" y="2972.5" width="1566.5" height="222" fill="none" stroke="#000" stroke-width="2.2"/>
<g text-anchor="end"><text x="108.5" y="2978.3">0.5</text><text x="108.5" y="3022.7">0.4</text><text x="108.5" y="3067.1">0.3</text><text x="108.5" y="3111.5">0.2</text><text x="108.5" y="3155.9">0.1</text><text x="108.5" y="3200.3">0.0</text></g>
<g text-anchor="middle"><text x="263.9" y="3217.5">12/27 05:03</text><text x="508.6" y="3217.5">12/27 05:13</text><text x="753.4" y="3217.5">12/27 05:23</text><text x="998.2" y="3217.5">12/27 05:33</text><text x="1242.9" y="3217.5">12/27 05:43</text><text x="1487.7" y="3217.5">12/27 05:53</text>
<text transform="translate(62,3083.5) rotate(-90)">Tp(<tspan font-family="Liberation Serif,serif">10</tspan><tspan font-family="Liberation Serif,serif" font-size="10" dy="-6">6</tspan><tspan dy="6">K)</tspan></text></g>
<rect x="124" y="2980" width="71" height="26.5" fill="#fff" stroke="#000" stroke-width="1.8"/>
<line x1="134" y1="2992.7" x2="155" y2="2992.7" stroke="#00f" stroke-width="2"/>
<text x="171" y="2997.7" font-size="14">Tp</text>
</g>
</svg>
</body></html>
